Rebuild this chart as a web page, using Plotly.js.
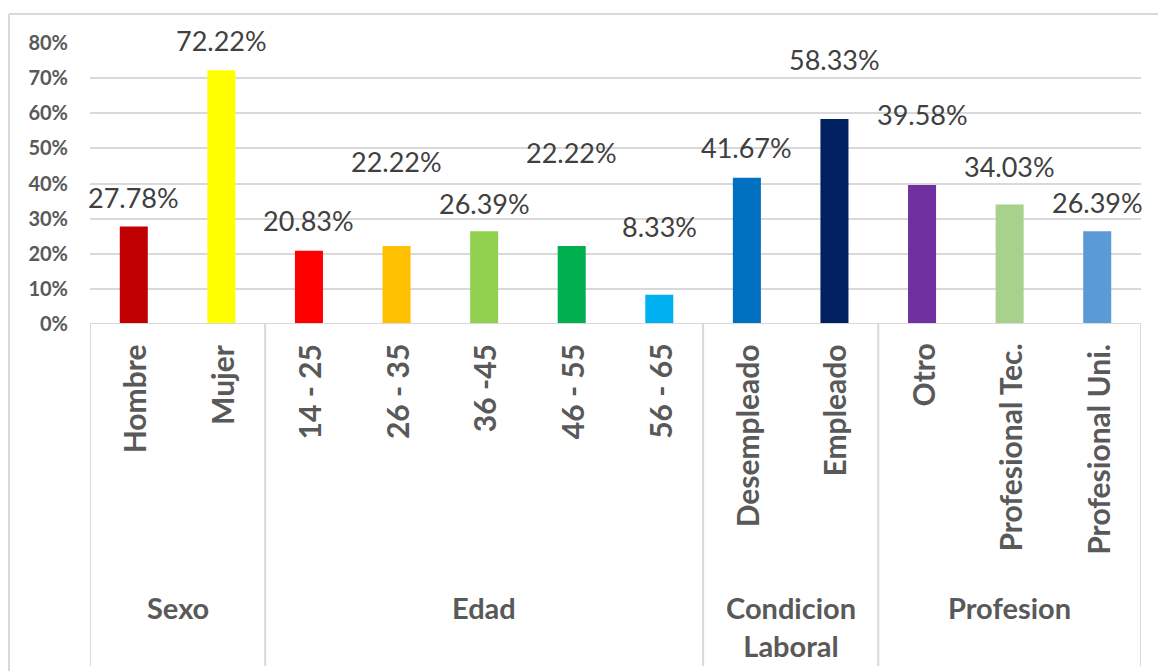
<!DOCTYPE html>
<html>
<head>
<meta charset="utf-8">
<script src="https://cdn.plot.ly/plotly-3.0.1.min.js"></script>
<style>html,body{margin:0;padding:0;background:#fff;}#chart{width:1158px;height:671px;}</style>
</head>
<body>
<div id="chart"></div>
<script>
// ---- data ----
const categories = ["Hombre","Mujer","14 - 25","26 - 35","36 -45","46 - 55","56 - 65","Desempleado","Empleado","Otro","Profesional Tec.","Profesional Uni."];
const values = [27.78,72.22,20.83,22.22,26.39,22.22,8.33,41.67,58.33,39.58,34.03,26.39];
const groups = ["Sexo","Edad","Condicion<br>Laboral","Profesion"];
const groupSizes = [2,5,2,3];
const yTickValues = [0,10,20,30,40,50,60,70,80];

// ---- style ----
const barColors = ["#C00000","#FFFF00","#FF0000","#FFC000","#92D050","#00B050","#00B0F0","#0070C0","#002060","#7030A0","#A9D18E","#5B9BD5"];
const labelLiftPx = [29,30,30,84,28,93,68,30,60,70,38,29];
const FONT = "Lato, 'Open Sans', sans-serif";
const GRID = "#d9d9d9";

const xIdx = categories.map((c,i)=>i);

const trace = {
  type: "bar",
  x: xIdx,
  y: values,
  width: 0.32,
  marker: {color: barColors},
  hoverinfo: "skip"
};

const annotations = [];
// data labels
values.forEach((v,i)=>{
  annotations.push({
    x: i, y: v, xref: "x", yref: "y",
    text: v.toFixed(2) + "%",
    showarrow: false, xanchor: "center", yanchor: "middle",
    yshift: labelLiftPx[i],
    font: {family: FONT, size: 27, color: "#404040"}
  });
});
// category labels (rotated)
categories.forEach((c,i)=>{
  annotations.push({
    x: i, y: 0, xref: "x", yref: "y",
    text: "<b>" + c + "</b>",
    textangle: -90,
    showarrow: false, xanchor: "center", yanchor: "top",
    yshift: -18,
    font: {family: FONT, size: 30, color: "#595959"}
  });
});
// group labels + separators
const shapes = [];
let start = -0.5;
shapes.push({type:"line", xref:"x", yref:"paper", x0:start, x1:start, y0:0, y1:-1.217, line:{color:GRID, width:2}});
groups.forEach((g,k)=>{
  const end = start + groupSizes[k];
  annotations.push({
    x: (start+end)/2, y: 0, xref: "x", yref: "y",
    text: "<b>" + g + "</b>",
    showarrow: false, xanchor: "center", yanchor: "top",
    yshift: -264,
    font: {family: FONT, size: 29, color: "#595959"}
  });
  shapes.push({type:"line", xref:"x", yref:"paper", x0:end, x1:end, y0:0, y1:-1.217, line:{color:GRID, width:2}});
  start = end;
});
// category axis baseline
shapes.push({type:"line", xref:"paper", yref:"y", x0:0, x1:1, y0:0, y1:0, line:{color:GRID, width:2}});
// chart frame (left + top)
shapes.push({type:"line", xref:"paper", yref:"paper", x0:-0.0771, x1:-0.0771, y0:1.1032, y1:-1.3, line:{color:GRID, width:2}});
shapes.push({type:"line", xref:"paper", yref:"paper", x0:-0.0771, x1:1.1, y0:1.1032, y1:1.1032, line:{color:GRID, width:2}});

const layout = {
  width: 1158, height: 671,
  margin: {l: 90, r: 17, t: 43, b: 347},
  paper_bgcolor: "#ffffff",
  plot_bgcolor: "#ffffff",
  showlegend: false,
  xaxis: {
    range: [-0.5, 11.5],
    showticklabels: false,
    showgrid: false, zeroline: false, showline: false, ticks: "",
    fixedrange: true
  },
  yaxis: {
    range: [0, 80],
    tickvals: yTickValues,
    ticktext: yTickValues.map(v => "<b>" + v + "%</b>"),
    showgrid: true, gridcolor: GRID, gridwidth: 2,
    zeroline: false, showline: false, ticks: "",
    ticklabelstandoff: 21,
    tickfont: {family: FONT, size: 20, color: "#595959"},
    fixedrange: true
  },
  annotations: annotations,
  shapes: shapes
};

Plotly.newPlot("chart", [trace], layout, {displayModeBar: false, staticPlot: true});
</script>
</body>
</html>
